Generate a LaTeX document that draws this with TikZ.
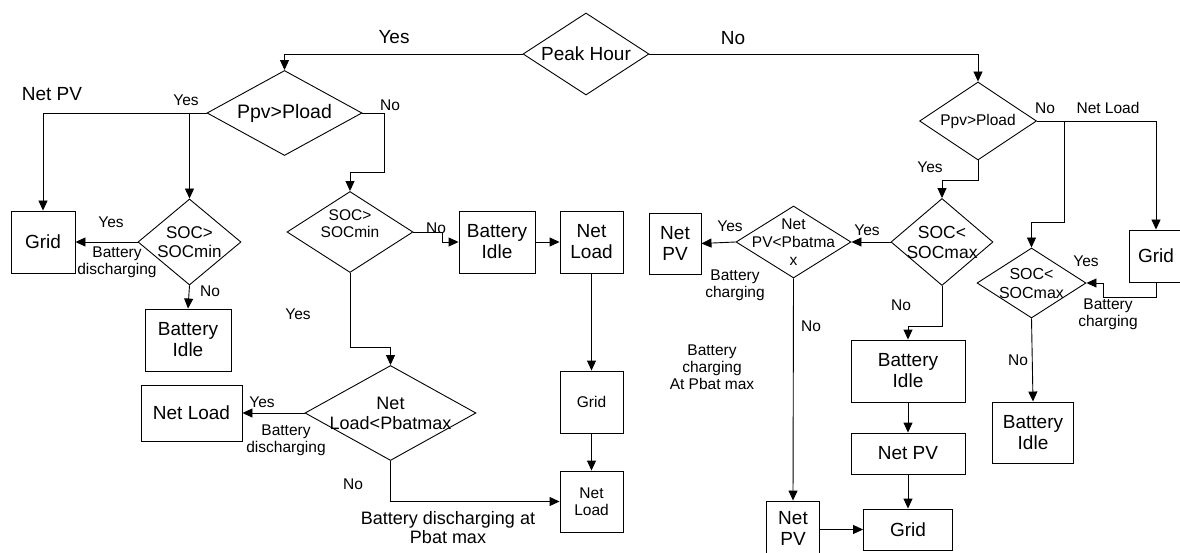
\documentclass[tikz,border=0pt]{standalone}
\usepackage{fontspec}
\setmainfont{Liberation Sans}
\usetikzlibrary{arrows.meta,shapes.geometric,calc}
\tikzset{
  box/.style={draw,line width=0.9pt,align=center,inner sep=0pt,font=\fontsize{19}{21}\selectfont},
  boxs/.style={box,font=\fontsize{15.5}{17}\selectfont},
  dec/.style={diamond,draw,line width=0.9pt,inner sep=0pt},
  arr/.style={-{Triangle[length=10pt,width=9pt]},line width=0.9pt},
  lbl/.style={font=\fontsize{15.5}{17}\selectfont,align=center,inner sep=0pt},
  lblb/.style={lbl,font=\fontsize{19}{21}\selectfont},
}

\begin{document}
\begin{tikzpicture}[x=1pt,y=-1pt]
\useasboundingbox (0,0) rectangle (1180,553);
% decisions
\node[dec,minimum width=126pt,minimum height=82pt,label={[lblb,name=peakt]center:Peak Hour}] (peak) at (586,54) {};
\node[dec,minimum width=155pt,minimum height=85pt,label={[lblb,font=\fontsize{19.5}{21}\selectfont,name=ppvLt]center:Ppv>Pload}] (ppvL) at (284.5,113) {};
\node[dec,minimum width=103pt,minimum height=86pt,label={[lbl,font=\fontsize{17}{19}\selectfont,name=socLt]center:SOC>\\SOCmin}] (socL) at (189.5,242) {};
\node[dec,minimum width=126pt,minimum height=81pt,label={[lbl,yshift=8pt,name=socMt]center:SOC>\\SOCmin}] (socM) at (350,232) {};
\node[dec,minimum width=171pt,minimum height=95pt,label={[lbl,font=\fontsize{18}{20}\selectfont,name=nlpt]center:Net\\Load<Pbatmax}] (nlp) at (390.5,413) {};
\node[dec,minimum width=117pt,minimum height=78pt,label={[lbl,name=ppvRt]center:Ppv>Pload}] (ppvR) at (978,121) {};
\node[dec,minimum width=102pt,minimum height=87pt,label={[lbl,font=\fontsize{17.5}{20}\selectfont,name=socR1t]center:SOC<\\SOCmax}] (socR1) at (942,242) {};
\node[dec,minimum width=109pt,minimum height=70pt,label={[lbl,font=\fontsize{16}{19}\selectfont,name=socR2t]center:SOC<\\SOCmax}] (socR2) at (1031.5,283) {};
\node[dec,minimum width=115pt,minimum height=72pt,label={[lbl,font=\fontsize{15.5}{18}\selectfont,name=nppt]center:Net\\PV<Pbatma\\x}] (npp) at (793.5,242) {};
% boxes
\node[box,minimum width=64pt,minimum height=62pt] (gridL) at (43,242) {Grid};
\node[box,minimum width=86pt,minimum height=62pt] (biL) at (188,340) {Battery\\Idle};
\node[box,minimum width=101pt,minimum height=56pt] (nlL) at (191.5,413) {Net Load};
\node[box,minimum width=76pt,minimum height=62pt] (biM) at (497,242) {Battery\\Idle};
\node[box,minimum width=63pt,minimum height=62pt] (nlM) at (591.5,242) {Net\\Load};
\node[boxs,minimum width=63pt,minimum height=62pt] (gridM) at (591.5,402) {Grid};
\node[boxs,minimum width=63pt,minimum height=61pt] (nlB) at (591.5,501.5) {Net\\Load};
\node[box,minimum width=52pt,minimum height=61pt] (npvM) at (675,243.5) {Net\\PV};
\node[box,minimum width=53pt,minimum height=54pt] (npvB) at (793,528) {Net\\PV};
\node[box,minimum width=114pt,minimum height=62pt] (biR1) at (908,371) {Battery\\Idle};
\node[box,minimum width=114pt,minimum height=41pt] (npvR) at (908,453.5) {Net PV};
\node[box,minimum width=89pt,minimum height=41pt] (gridB) at (908,529.5) {Grid};
\node[box,minimum width=81pt,minimum height=61pt] (biR2) at (1033,432.5) {Battery\\Idle};
\node[box,minimum width=54pt,minimum height=52pt] (gridR) at (1156,256) {Grid};
% labels
\node[lblb] (yes0) at (394,37) {Yes};
\node[lblb] (no0) at (733,38) {No};
\node[lblb] (npv0) at (52,94) {Net PV};
\node[lbl] (yes1) at (186,100) {Yes};
\node[lbl] (no1) at (390,105) {No};
\node[lbl] (yes2) at (111,222) {Yes};
\node[lbl] (bd1) at (117,262) {Battery\\discharging};
\node[lbl] (no2) at (436,228) {No};
\node[lbl] (no3) at (210,291) {No};
\node[lbl] (yes3) at (298,314) {Yes};
\node[lbl] (yes4) at (262,402) {Yes};
\node[lbl] (bd2) at (286,440) {Battery\\discharging};
\node[lbl] (no4) at (353,484) {No};
\node[lbl,font=\fontsize{18}{19}\selectfont] (bd3) at (448,528) {Battery discharging at\\Pbat max};
\node[lbl] (yes5) at (730,226) {Yes};
\node[lbl] (bc1) at (735,285) {Battery\\charging};
\node[lbl] (bc2) at (712,367) {Battery\\charging\\At Pbat max};
\node[lbl] (yes6) at (867,230) {Yes};
\node[lbl] (no5) at (1045,108) {No};
\node[lbl] (nl0) at (1108,108) {Net Load};
\node[lbl] (yes7) at (930,167) {Yes};
\node[lbl] (no6) at (811,326) {No};
\node[lbl] (no7) at (901,305) {No};
\node[lbl] (yes8) at (1086,261) {Yes};
\node[lbl] (bc3) at (1108,314) {Battery\\charging};
\node[lbl] (no8) at (1018,360) {No};
% connectors, peak hour side
\draw[arr] (peak.west) -| (ppvL.north);
\draw[arr] (ppvL.west) -| (gridL.north);
\draw[arr] (socL.north |- ppvL.west) -- (socL.north);
\draw[arr] (socL.west) -- (socL.west -| gridL.east);
\draw[arr] (socL.south) -- (biL.north);
\draw[arr] (ppvL.east) -- ++(22,0) |- ([yshift=19pt]socM.north) -- (socM.north);
\draw[arr] (socM.east) -- ++(29,0) |- (biM.west);
\draw[arr] (biM.east) -- (nlM.west);
\draw[arr] (nlM.south) -- (gridM.north);
\draw[arr] (gridM.south) -- (nlB.north);
\draw[arr] (socM.south) |- ([yshift=18pt]nlp.north) -- (nlp.north);
\draw[arr] (nlp.west) -- (nlL.east);
\draw[arr] (nlp.south) |- (nlB.west);
% connectors, off-peak side
\draw[arr] (peak.east) -| (ppvR.north);
\draw[arr] (ppvR.east) -| (gridR.north);
\draw[arr] ([xshift=27pt]ppvR.east) |- ([yshift=25pt]socR2.north) -- (socR2.north);
\draw[arr] (ppvR.south) |- ([yshift=18pt]socR1.north) -- (socR1.north);
\draw[arr] (socR1.west) -- (npp.east);
\draw[arr] (npp.west) -- (npvM.east);
\draw[arr] (npp.south) -- (npvB.north);
\draw[arr] (npvB.east |- gridB.west) -- (gridB.west);
\draw[arr] (socR1.south) |- ([yshift=13pt]biR1.north) -- (biR1.north);
\draw[arr] (biR1.south) -- (npvR.north);
\draw[arr] (npvR.south) -- (gridB.north);
\draw[arr] (socR2.south) -- (biR2.north);
\draw[arr] (gridR.south) -- ++(0,15) -| ([xshift=17pt]socR2.east) -- (socR2.east);
\end{tikzpicture}
\end{document}
